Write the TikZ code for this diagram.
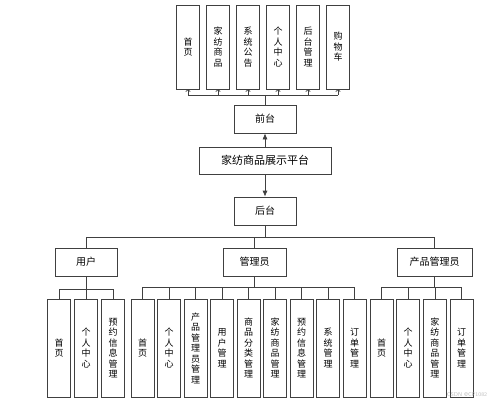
\documentclass[tikz,border=0pt]{standalone}
\usepackage{fontspec}
\newfontfamily\cjk{Noto Sans CJK SC}
\usetikzlibrary{arrows.meta, positioning}
\tikzstyle{link}=[draw=black!75, line width=0.7pt]
\tikzstyle{leaf}=[link, minimum width=23pt, inner sep=0pt, align=center, font=\cjk\fontsize{9}{10.5}\selectfont]
\tikzstyle{topleaf}=[leaf, minimum height=84pt]
\tikzstyle{subleaf}=[leaf, minimum height=98pt]
\tikzstyle{mid}=[link, minimum width=62pt, minimum height=28pt, inner sep=0pt, font=\cjk\fontsize{10}{12}\selectfont]
\begin{document}
\begin{tikzpicture}[x=1pt, y=-1pt]
  \useasboundingbox (0,0) rectangle (500,402);
  % front end
  \node[topleaf] (t1) at (188,47) {首\\页};
  \node[topleaf] (t2) [right=6.3pt of t1] {家\\纺\\商\\品};
  \node[topleaf] (t3) [right=6.3pt of t2] {系\\统\\公\\告};
  \node[topleaf] (t4) [right=6.3pt of t3] {个\\人\\中\\心};
  \node[topleaf] (t5) [right=6.3pt of t4] {后\\台\\管\\理};
  \node[topleaf] (t6) [right=6.3pt of t5] {购\\物\\车};
  \node[mid] (qt) at (265,119) {前台};
  \node[mid, minimum width=132pt, minimum height=27pt, font=\cjk\fontsize{11}{13}\selectfont] (pt) at (265,160.5) {家纺商品展示平台};
  \node[mid] (ht) at (265,211) {后台};
  % back end
  \node[mid] (yh) at (86,262) {用户};
  \node[mid, minimum width=63pt] (gl) at (254.5,262) {管理员};
  \node[mid, minimum width=75pt] (cp) at (434.5,262) {产品管理员};
  \node[subleaf] (u1) at (59,348) {首\\页};
  \node[subleaf] (u2) [right=3.3pt of u1] {个\\人\\中\\心};
  \node[subleaf] (u3) [right=3.3pt of u2] {预\\约\\信\\息\\管\\理};
  \node[subleaf] (a1) at (142.5,348) {首\\页};
  \node[subleaf] (a2) [right=2.8pt of a1] {个\\人\\中\\心};
  \node[subleaf] (a3) [right=2.8pt of a2] {产\\品\\管\\理\\员\\管\\理};
  \node[subleaf] (a4) [right=2.8pt of a3] {用\\户\\管\\理};
  \node[subleaf] (a5) [right=2.8pt of a4] {商\\品\\分\\类\\管\\理};
  \node[subleaf] (a6) [right=2.8pt of a5] {家\\纺\\商\\品\\管\\理};
  \node[subleaf] (a7) [right=2.8pt of a6] {预\\约\\信\\息\\管\\理};
  \node[subleaf] (a8) [right=2.8pt of a7] {系\\统\\管\\理};
  \node[subleaf] (a9) [right=2.8pt of a8] {订\\单\\管\\理};
  \node[subleaf] (p1) at (381.5,348) {首\\页};
  \node[subleaf] (p2) [right=3pt of p1] {个\\人\\中\\心};
  \node[subleaf] (p3) [right=3pt of p2] {家\\纺\\商\\品\\管\\理};
  \node[subleaf] (p4) [right=3pt of p3] {订\\单\\管\\理};
  \node[text=black!25, font=\sffamily\fontsize{5.5}{6}\selectfont] (mark) at (467,395) {CSDN @CP1082};
  % buses
  \coordinate (topbus) at (265,95);
  \coordinate (midbus) at (265,237);
  \coordinate (ybus) at (86,289);
  \coordinate (gbus) at (254.5,287);
  \coordinate (cbus) at (434.5,287);
  \draw[link, -{Latex[length=6pt, width=5pt]}] (pt) -- (qt);
  \draw[link, -{Latex[length=6pt, width=5pt]}] (pt) -- (ht);
  \draw[link] (qt) -- (topbus);
  \draw[link] (topbus -| t1) -- (topbus -| t6);
  \foreach \i in {1,...,6}
    \draw[link, -{To[length=2.5pt, width=5pt]}] (topbus -| t\i) -- (t\i);
  \draw[link] (ht) -- (midbus);
  \draw[link] (midbus -| yh) -- (midbus -| cp);
  \foreach \n in {yh, gl, cp}
    \draw[link] (midbus -| \n) -- (\n);
  \draw[link] (yh) -- (ybus);
  \draw[link] (ybus -| u1) -- (ybus -| u3);
  \foreach \i in {1,...,3}
    \draw[link] (ybus -| u\i) -- (u\i);
  \draw[link] (gl) -- (gbus);
  \draw[link] (gbus -| a1) -- (gbus -| a9);
  \foreach \i in {1,...,9}
    \draw[link] (gbus -| a\i) -- (a\i);
  \draw[link] (cp) -- (cbus);
  \draw[link] (cbus -| p1) -- (cbus -| p4);
  \foreach \i in {1,...,4}
    \draw[link] (cbus -| p\i) -- (p\i);
\end{tikzpicture}
\end{document}
